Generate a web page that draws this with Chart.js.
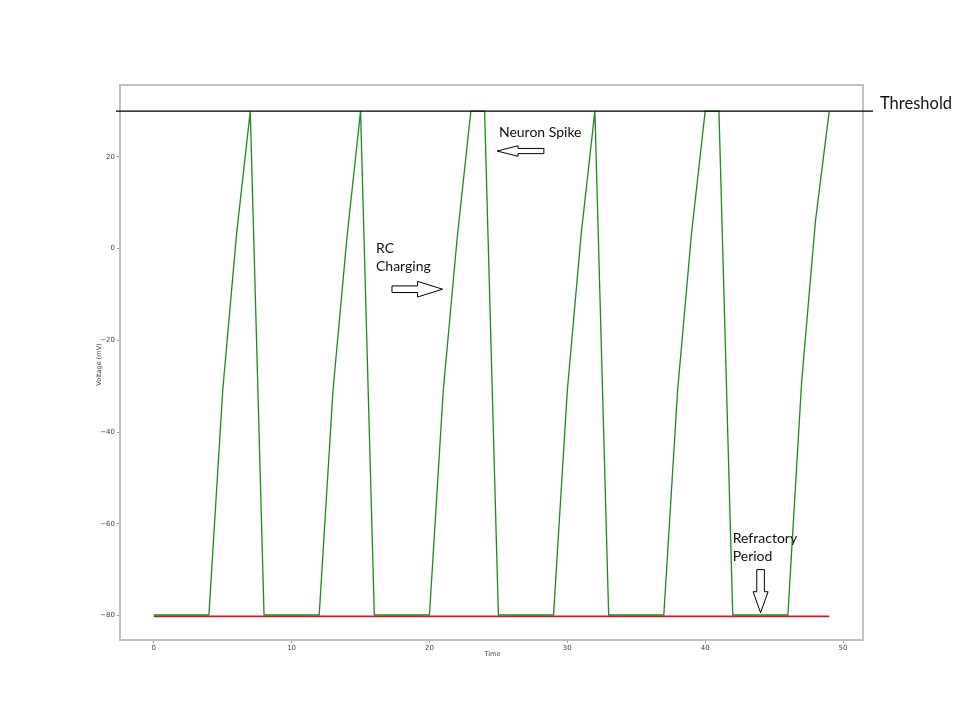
<!DOCTYPE html>
<html>
<head>
<meta charset="utf-8">
<title>Neuron membrane voltage</title>
<script src="https://cdn.jsdelivr.net/npm/chart.js@4.4.1/dist/chart.umd.min.js"></script>
<style>
  html, body { margin: 0; padding: 0; background: #fff; }
  canvas { display: block; }
</style>
</head>
<body>
<canvas id="neuronChart" width="960" height="720"></canvas>
<script>
// Time steps of the simulation
const time = [0, 1, 2, 3, 4, 5, 6, 7, 8, 9,
              10, 11, 12, 13, 14, 15, 16, 17, 18, 19,
              20, 21, 22, 23, 24, 25, 26, 27, 28, 29,
              30, 31, 32, 33, 34, 35, 36, 37, 38, 39,
              40, 41, 42, 43, 44, 45, 46, 47, 48, 49];

// Membrane voltage (mV), green trace
const voltage = [-79.9, -79.9, -79.9, -79.9, -79.9, -31, 3, 30, -79.9, -79.9,
                 -79.9, -79.9, -79.9, -31, 2, 30, -79.9, -79.9, -79.9, -79.9,
                 -79.9, -31, 2, 30, 30, -79.9, -79.9, -79.9, -79.9, -79.9,
                 -31, 3, 30, -79.9, -79.9, -79.9, -79.9, -79.9, -31, 3,
                 30, 30, -79.9, -79.9, -79.9, -79.9, -79.9, -29, 6, 30];

// Resting potential (mV), red trace
const restVoltage = [-80.2, -80.2, -80.2, -80.2, -80.2, -80.2, -80.2, -80.2, -80.2, -80.2,
                     -80.2, -80.2, -80.2, -80.2, -80.2, -80.2, -80.2, -80.2, -80.2, -80.2,
                     -80.2, -80.2, -80.2, -80.2, -80.2, -80.2, -80.2, -80.2, -80.2, -80.2,
                     -80.2, -80.2, -80.2, -80.2, -80.2, -80.2, -80.2, -80.2, -80.2, -80.2,
                     -80.2, -80.2, -80.2, -80.2, -80.2, -80.2, -80.2, -80.2, -80.2, -80.2];

const thresholdVoltage = 30;

const xTickValues = [0, 10, 20, 30, 40, 50];
const yTickValues = [-80, -60, -40, -20, 0, 20];
const xLimits = [-2.45, 51.45];
const yLimits = [-85.35, 35.7];

// Hand-drawn notes on the figure, placed in data coordinates
const notes = [
  { lines: ['Neuron Spike'], t: 25.04, v: 24.35 },
  { lines: ['RC', 'Charging'], t: 16.12, v: -1.0 },
  { lines: ['Refractory', 'Period'], t: 42.0, v: -64.1 }
];
const arrows = [
  { from: [28.3, 21.3], to: [24.9, 21.3], body: 2.6, head: 5.2, headLen: 21 },
  { from: [17.28, -8.84], to: [20.95, -8.84], body: 3.3, head: 7.8, headLen: 25 },
  { from: [44.02, -70.0], to: [44.02, -79.4], body: 3.8, head: 7.5, headLen: 21 }
];

function formatTick(v) {
  return v < 0 ? '\u2212' + Math.abs(v) : String(v);
}

function drawArrow(ctx, x0, y0, x1, y1, bw, hw, hl) {
  const len = Math.hypot(x1 - x0, y1 - y0);
  const ux = (x1 - x0) / len, uy = (y1 - y0) / len;
  const px = -uy, py = ux;
  const nx = x1 - ux * hl, ny = y1 - uy * hl;
  const pts = [
    [x0 + px * bw, y0 + py * bw], [nx + px * bw, ny + py * bw], [nx + px * hw, ny + py * hw],
    [x1, y1],
    [nx - px * hw, ny - py * hw], [nx - px * bw, ny - py * bw], [x0 - px * bw, y0 - py * bw]
  ];
  ctx.beginPath();
  ctx.moveTo(pts[0][0], pts[0][1]);
  for (let i = 1; i < pts.length; i++) ctx.lineTo(pts[i][0], pts[i][1]);
  ctx.closePath();
  ctx.fillStyle = '#fff';
  ctx.fill();
  ctx.strokeStyle = '#000';
  ctx.lineWidth = 1;
  ctx.stroke();
}

// Frame, threshold line, notes and axis titles
const figurePlugin = {
  id: 'figureExtras',
  beforeDatasetsDraw(chart) {
    const { ctx, chartArea: a } = chart;
    ctx.save();
    ctx.strokeStyle = '#c0c0c0';
    ctx.lineWidth = 2;
    ctx.strokeRect(a.left, a.top, a.right - a.left, a.bottom - a.top);
    ctx.restore();
  },
  afterDraw(chart) {
    const { ctx, chartArea: a } = chart;
    const xs = chart.scales.x, ys = chart.scales.y;
    ctx.save();

    // threshold line running past the axes
    const ty = ys.getPixelForValue(thresholdVoltage);
    ctx.strokeStyle = '#000';
    ctx.lineWidth = 1.2;
    ctx.beginPath();
    ctx.moveTo(a.left - 4, ty);
    ctx.lineTo(a.right + 10, ty);
    ctx.stroke();

    ctx.fillStyle = '#111';
    ctx.font = '16.5px Lato';
    ctx.textBaseline = 'alphabetic';
    ctx.textAlign = 'left';
    ctx.fillText('Threshold', a.right + 17, ty - 2);

    // notes
    ctx.font = '14px Lato';
    notes.forEach(n => {
      const x = xs.getPixelForValue(n.t);
      const y = ys.getPixelForValue(n.v);
      n.lines.forEach((line, i) => ctx.fillText(line, x, y + i * 18));
    });
    arrows.forEach(ar => {
      drawArrow(ctx,
        xs.getPixelForValue(ar.from[0]), ys.getPixelForValue(ar.from[1]),
        xs.getPixelForValue(ar.to[0]), ys.getPixelForValue(ar.to[1]),
        ar.body, ar.head, ar.headLen);
    });

    // axis titles
    ctx.fillStyle = '#444';
    ctx.font = '6.5px "DejaVu Sans"';
    ctx.textAlign = 'center';
    ctx.textBaseline = 'middle';
    ctx.fillText('Time', (a.left + a.right) / 2 + 1, a.bottom + 14);
    ctx.translate(a.left - 21, (a.top + a.bottom) / 2 + 2);
    ctx.rotate(-Math.PI / 2);
    ctx.fillText('Voltage (mV)', 0, 0);
    ctx.restore();
  }
};

const ctx = document.getElementById('neuronChart').getContext('2d');
const neuronChart = new Chart(ctx, {
  type: 'line',
  data: {
    datasets: [
      {
        label: 'Voltage',
        data: time.map((t, i) => ({ x: t, y: voltage[i] })),
        borderColor: '#1a8c1a',
        borderWidth: 1.3,
        pointRadius: 0,
        tension: 0
      },
      {
        label: 'Rest',
        data: time.map((t, i) => ({ x: t, y: restVoltage[i] })),
        borderColor: '#e0102c',
        borderWidth: 1.8,
        pointRadius: 0,
        tension: 0
      }
    ]
  },
  options: {
    responsive: false,
    animation: false,
    devicePixelRatio: 1,
    layout: { padding: { top: 85, right: 97, left: 0, bottom: 0 } },
    plugins: { legend: { display: false }, tooltip: { enabled: false } },
    scales: {
      x: {
        type: 'linear',
        min: xLimits[0],
        max: xLimits[1],
        afterFit: s => { s.height = 80; },
        afterBuildTicks: s => { s.ticks = xTickValues.map(v => ({ value: v })); },
        grid: { display: true, drawOnChartArea: false, tickLength: 3, color: '#999' },
        border: { display: false },
        ticks: {
          padding: 1,
          maxRotation: 0,
          color: '#444',
          font: { family: 'DejaVu Sans', size: 7 },
          callback: v => formatTick(v)
        }
      },
      y: {
        type: 'linear',
        min: yLimits[0],
        max: yLimits[1],
        afterFit: s => { s.width = 120; },
        afterBuildTicks: s => { s.ticks = yTickValues.map(v => ({ value: v })); },
        grid: { display: true, drawOnChartArea: false, tickLength: 3, color: '#999' },
        border: { display: false },
        ticks: {
          padding: 2,
          color: '#444',
          font: { family: 'DejaVu Sans', size: 7 },
          callback: v => formatTick(v)
        }
      }
    }
  },
  plugins: [figurePlugin]
});
</script>
</body>
</html>
